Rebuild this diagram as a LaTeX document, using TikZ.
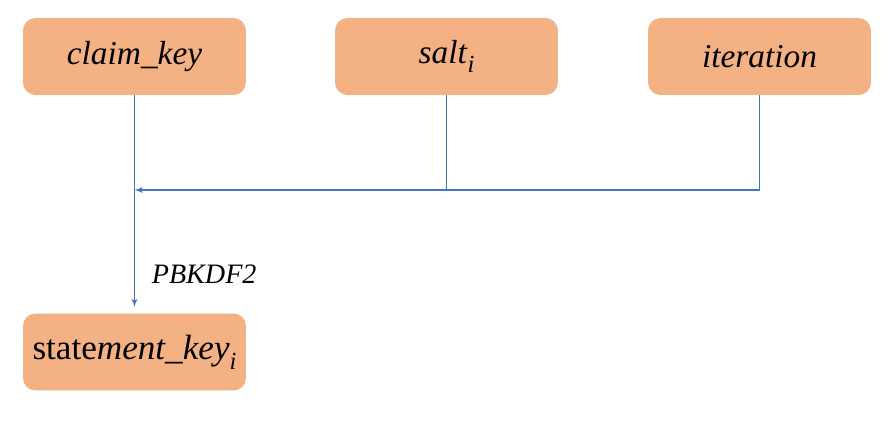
\documentclass[tikz,border=0pt]{standalone}
\usepackage{fontspec}
\setmainfont{Liberation Serif}
\usetikzlibrary{arrows}
\definecolor{boxorange}{RGB}{244,177,131}
\definecolor{lineblue}{RGB}{68,114,196}
\newcommand{\subi}{\raisebox{-0.28em}{\fontsize{14}{16}\selectfont\textit{i}}}
\begin{document}
\begin{tikzpicture}
			[x=0.02cm,y=-0.02cm,every node/.style={font=\fontsize{19}{22}\selectfont},
			box/.style={rectangle,rounded corners=0.25cm,fill=boxorange,minimum width=4.46cm,minimum height=1.54cm,inner sep=0pt},
			edge/.style={->,> = latex',draw=lineblue,line width=0.6pt}]
			\useasboundingbox (0,0) rectangle (893,421);
			\node[box] (claim) at (134.5,56.5) {\textit{claim\_key}};
			\node[box] (salt) at (446.5,56.5) {\textit{salt}\subi};
			\node[box] (iter) at (759.5,56.5) {\textit{iteration}};
			\node[box] (stmt) at (134.5,352) {\fontsize{20}{24}\selectfont state\textit{ment\_key}\subi};
			\coordinate (merge) at (134.5,190);
			\coordinate (join) at (446.5,190);
			
			\draw[edge,shorten >=0.12cm] (claim) to node [pos=0.82, right=0.22cm, font=\fontsize{16}{19}\selectfont] {\textit{PBKDF2}} (stmt);
			\draw[edge] (salt) |- (merge);
			\draw[draw=lineblue,line width=0.6pt] (iter) |- (join);
			\end{tikzpicture}
\end{document}
